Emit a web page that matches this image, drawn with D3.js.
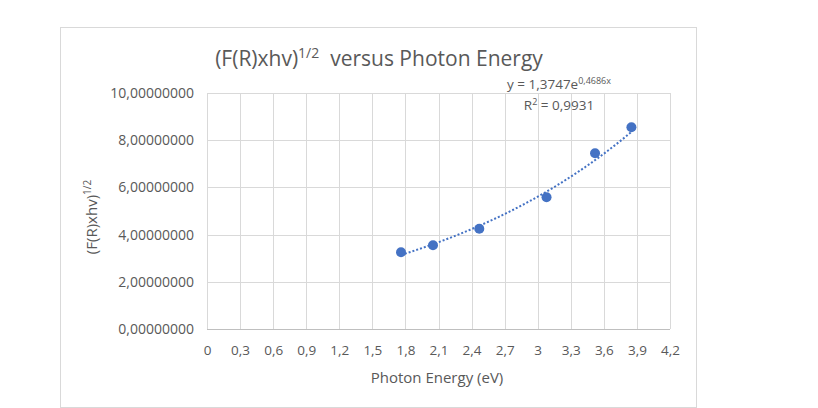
<!DOCTYPE html>
<html>
<head>
<meta charset="utf-8">
<script src="https://cdn.jsdelivr.net/npm/d3@7"></script>
<style>
  body { margin: 0; background: #fff; }
  text { font-family: "Open Sans", "Noto Sans", sans-serif; fill: #595959; }
</style>
</head>
<body>
<svg id="chart" width="818" height="408"></svg>
<script>
// data
const energy = [1.76, 2.05, 2.47, 3.08, 3.52, 3.85];
const values = [3.25, 3.55, 4.25, 5.58, 7.45, 8.55];
const xTicks = [0, 0.3, 0.6, 0.9, 1.2, 1.5, 1.8, 2.1, 2.4, 2.7, 3, 3.3, 3.6, 3.9, 4.2];
const yTicks = [0, 2, 4, 6, 8, 10];
// trendline y = a * e^(b x)
const trendA = 1.3747, trendB = 0.4686;

const blue = "#4472C4";
const locale = d3.formatLocale({decimal: ",", thousands: ".", grouping: [3], currency: ["", ""]});
const fmtY = locale.format(".8f");
const fmtX = locale.format("~g");

let svg = d3.select("#chart");

// chart border
svg.append("rect")
    .attr("x", 60.5).attr("y", 27.5)
    .attr("width", 636).attr("height", 380)
    .attr("fill", "#fff")
    .attr("stroke", "#d9d9d9");

let x = d3.scaleLinear().domain([0, 4.2]).range([207, 670]);
let y = d3.scaleLinear().domain([0, 10]).range([329, 93]);

// gridlines
svg.append("g").selectAll("line")
    .data(xTicks)
    .enter().append("line")
    .attr("x1", d => Math.round(x(d)) + 0.5).attr("x2", d => Math.round(x(d)) + 0.5)
    .attr("y1", y(10)).attr("y2", y(0))
    .attr("stroke", "#d9d9d9");

svg.append("g").selectAll("line")
    .data(yTicks)
    .enter().append("line")
    .attr("x1", x(0)).attr("x2", x(4.2))
    .attr("y1", d => Math.round(y(d)) + 0.5).attr("y2", d => Math.round(y(d)) + 0.5)
    .attr("stroke", d => d === 0 ? "#bfbfbf" : "#d9d9d9");

// axes (labels only, Excel style)
let xAxis = svg.append("g")
    .attr("transform", "translate(0," + y(0) + ")")
    .call(d3.axisBottom(x).tickValues(xTicks).tickFormat(fmtX).tickSize(0).tickPadding(16));
xAxis.select(".domain").remove();
xAxis.selectAll("text").style("font-size", "13.5px").attr("fill", "#595959");

let yAxis = svg.append("g")
    .attr("transform", "translate(" + x(0) + ",0)")
    .call(d3.axisLeft(y).tickValues(yTicks).tickFormat(fmtY).tickSize(0).tickPadding(13));
yAxis.select(".domain").remove();
yAxis.selectAll("text").style("font-size", "14px").attr("fill", "#595959");

// trendline
let xs = d3.range(0, 41).map(i => energy[0] + (energy[energy.length - 1] - energy[0]) * i / 40);
let line = d3.line().x(d => x(d)).y(d => y(trendA * Math.exp(trendB * d)));
svg.append("path")
    .datum(xs)
    .attr("d", line)
    .attr("fill", "none")
    .attr("stroke", blue)
    .attr("stroke-width", 2)
    .attr("stroke-dasharray", "2,2");

// points
svg.append("g").selectAll("circle")
    .data(energy)
    .enter().append("circle")
    .attr("cx", d => x(d))
    .attr("cy", (d, i) => y(values[i]))
    .attr("r", 5)
    .attr("fill", blue);

// title
let title = svg.append("text")
    .attr("x", 379).attr("y", 66)
    .attr("text-anchor", "middle")
    .style("font-size", "21px");
title.append("tspan").text("(F(R)xhv)");
title.append("tspan").attr("dy", -8).style("font-size", "14px").text("1/2");
title.append("tspan").attr("dy", 8).text("\u00a0 versus Photon Energy");

// axis titles
svg.append("text")
    .attr("x", 437).attr("y", 383)
    .attr("text-anchor", "middle")
    .style("font-size", "15px")
    .text("Photon Energy (eV)");

let yTitle = svg.append("text")
    .attr("transform", "translate(97,217) rotate(-90)")
    .attr("text-anchor", "middle")
    .style("font-size", "15px");
yTitle.append("tspan").text("(F(R)xhv)");
yTitle.append("tspan").attr("dy", -6).style("font-size", "10px").text("1/2");

// trendline label
let eq = svg.append("text")
    .attr("x", 559).attr("y", 89)
    .attr("text-anchor", "middle")
    .style("font-size", "13.5px");
eq.append("tspan").text("y = 1,3747e");
eq.append("tspan").attr("dy", -5).style("font-size", "9px").text("0,4686x");

let r2 = svg.append("text")
    .attr("x", 559).attr("y", 110)
    .attr("text-anchor", "middle")
    .style("font-size", "13.5px");
r2.append("tspan").text("R");
r2.append("tspan").attr("dy", -5).style("font-size", "9px").text("2");
r2.append("tspan").attr("dy", 5).text(" = 0,9931");
</script>
</body>
</html>
